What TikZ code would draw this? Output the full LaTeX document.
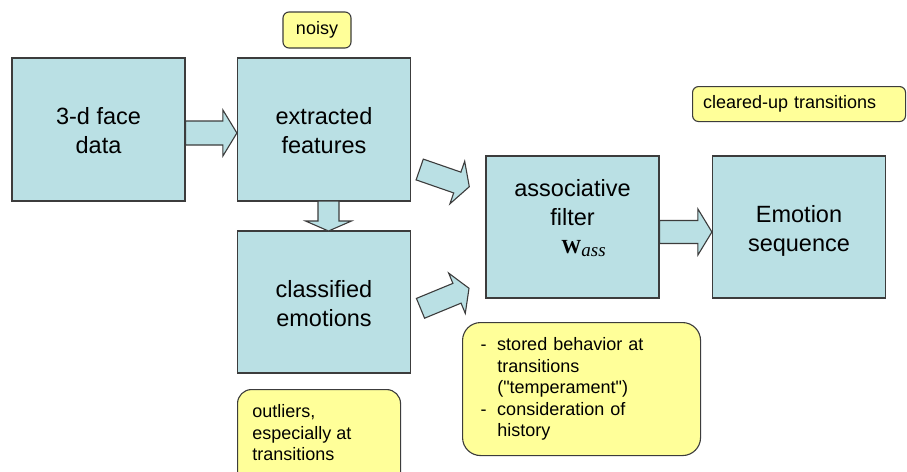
\documentclass[tikz,border=0pt]{standalone}
\usepackage{fontspec}
\setmainfont{Liberation Sans}[Ligatures=TeXOff]
\newfontfamily\serifw{Liberation Serif}
\usetikzlibrary{calc}
\definecolor{boxblue}{RGB}{186,224,228}
\definecolor{noteyel}{RGB}{255,255,153}
\definecolor{edge}{RGB}{60,60,60}
\newcommand\topst{\rule{0pt}{24.6pt}}
\newcommand\botst{\rule[-5pt]{0pt}{5pt}}
\newcommand\blockarrow[5]{%
  \coordinate (ba-h) at ($(#2)!#5!(#1)$);
  \draw[arrowbody] ($(#1)!#3!90:(#2)$) -- ($(ba-h)!#3!90:(#2)$) -- ($(ba-h)!#4!90:(#2)$) -- (#2)
    -- ($(ba-h)!#4!-90:(#2)$) -- ($(ba-h)!#3!-90:(#2)$) -- ($(#1)!#3!-90:(#2)$) -- cycle;
}
\tikzset{
  bigbox/.style={draw=edge, line width=1.2pt, fill=boxblue, minimum width=173pt, minimum height=143pt,
    inner sep=0pt, align=center, font=\fontsize{23.5}{29}\selectfont},
  note/.style={draw=edge, line width=1.1pt, fill=noteyel, rounded corners=#1,
    font=\fontsize{18}{21.5}\selectfont},
  note/.default=6pt,
  arrowbody/.style={draw=edge, line width=1.1pt, fill=boxblue, line join=miter}
}
\begin{document}
\begin{tikzpicture}[x=1pt,y=-1pt]
\useasboundingbox (0,0) rectangle (907,471);
\clip (0,0) rectangle (907,471);
\fill[white] (0,0) rectangle (907,471);

\node[bigbox] (face) at (98.5,129.5) {\topst 3-d face\\data\botst};
\node[bigbox] (feat) at (324,129.5) {\topst extracted\\features\botst};
\node[bigbox, minimum height=142pt] (class) at (324,302) {\topst classified\\emotions\botst};
\node[bigbox, minimum height=142pt] (assoc) at (572.5,227)
  {\rule{0pt}{17pt}associative\\filter\\[-1pt]\hspace*{22pt}{\serifw\bfseries\fontsize{20}{20}\selectfont W}\raisebox{-3.5pt}{\serifw\itshape\fontsize{19}{19}\selectfont ass}\rule[-22pt]{0pt}{0pt}};
\node[bigbox, minimum height=142pt] (emo) at (799,227) {\topst Emotion\\sequence\botst};

\node[note, minimum width=68pt, minimum height=36pt, inner sep=0pt] (noisy) at (317,30) {noisy};
\node[note, anchor=north west, minimum width=213pt, minimum height=35pt, inner xsep=10.5pt, inner ysep=0pt,
  text width=192pt, align=left] (clear) at (692,86) {cleared-up transitions};
\node[note=18pt, anchor=north west, minimum width=238pt, minimum height=133pt, inner xsep=18pt,
  text width=202pt, align=left] (stored) at (462,322)
  {\makebox[16.7pt][l]{-}stored behavior at\\
   \hspace*{16.7pt}transitions\\
   \hspace*{16.7pt}("temperament")\\
   \makebox[16.7pt][l]{-}consideration of\\
   \hspace*{16.7pt}history};
\node[note=14pt, anchor=north west, inner xsep=14.7pt, inner ysep=15pt] (outl) at (237,389)
  {\parbox[b][82pt][t]{133.6pt}{outliers,\\especially at\\transitions}};

\coordinate (a1s) at (face.east |- 0,133);
\coordinate (a1e) at (feat.west |- 0,133);
\coordinate (a2s) at (328.5,201);
\coordinate (a2e) at (328.5,231);
\coordinate (a3s) at (assoc.east |- 0,232);
\coordinate (a3e) at (emo.west |- 0,232);
\coordinate (a4s) at (419.7,169.5);
\coordinate (a4e) at (469.3,186.7);
\coordinate (a5s) at (420.5,308.3);
\coordinate (a5e) at (469,288.3);

\blockarrow{a1s}{a1e}{12pt}{23pt}{14pt}
\blockarrow{a2s}{a2e}{10.5pt}{23pt}{10pt}
\blockarrow{a3s}{a3e}{11.5pt}{23pt}{14pt}
\blockarrow{a4s}{a4e}{11pt}{22.5pt}{12.7pt}
\blockarrow{a5s}{a5e}{10.7pt}{21.8pt}{13pt}
\end{tikzpicture}
\end{document}
